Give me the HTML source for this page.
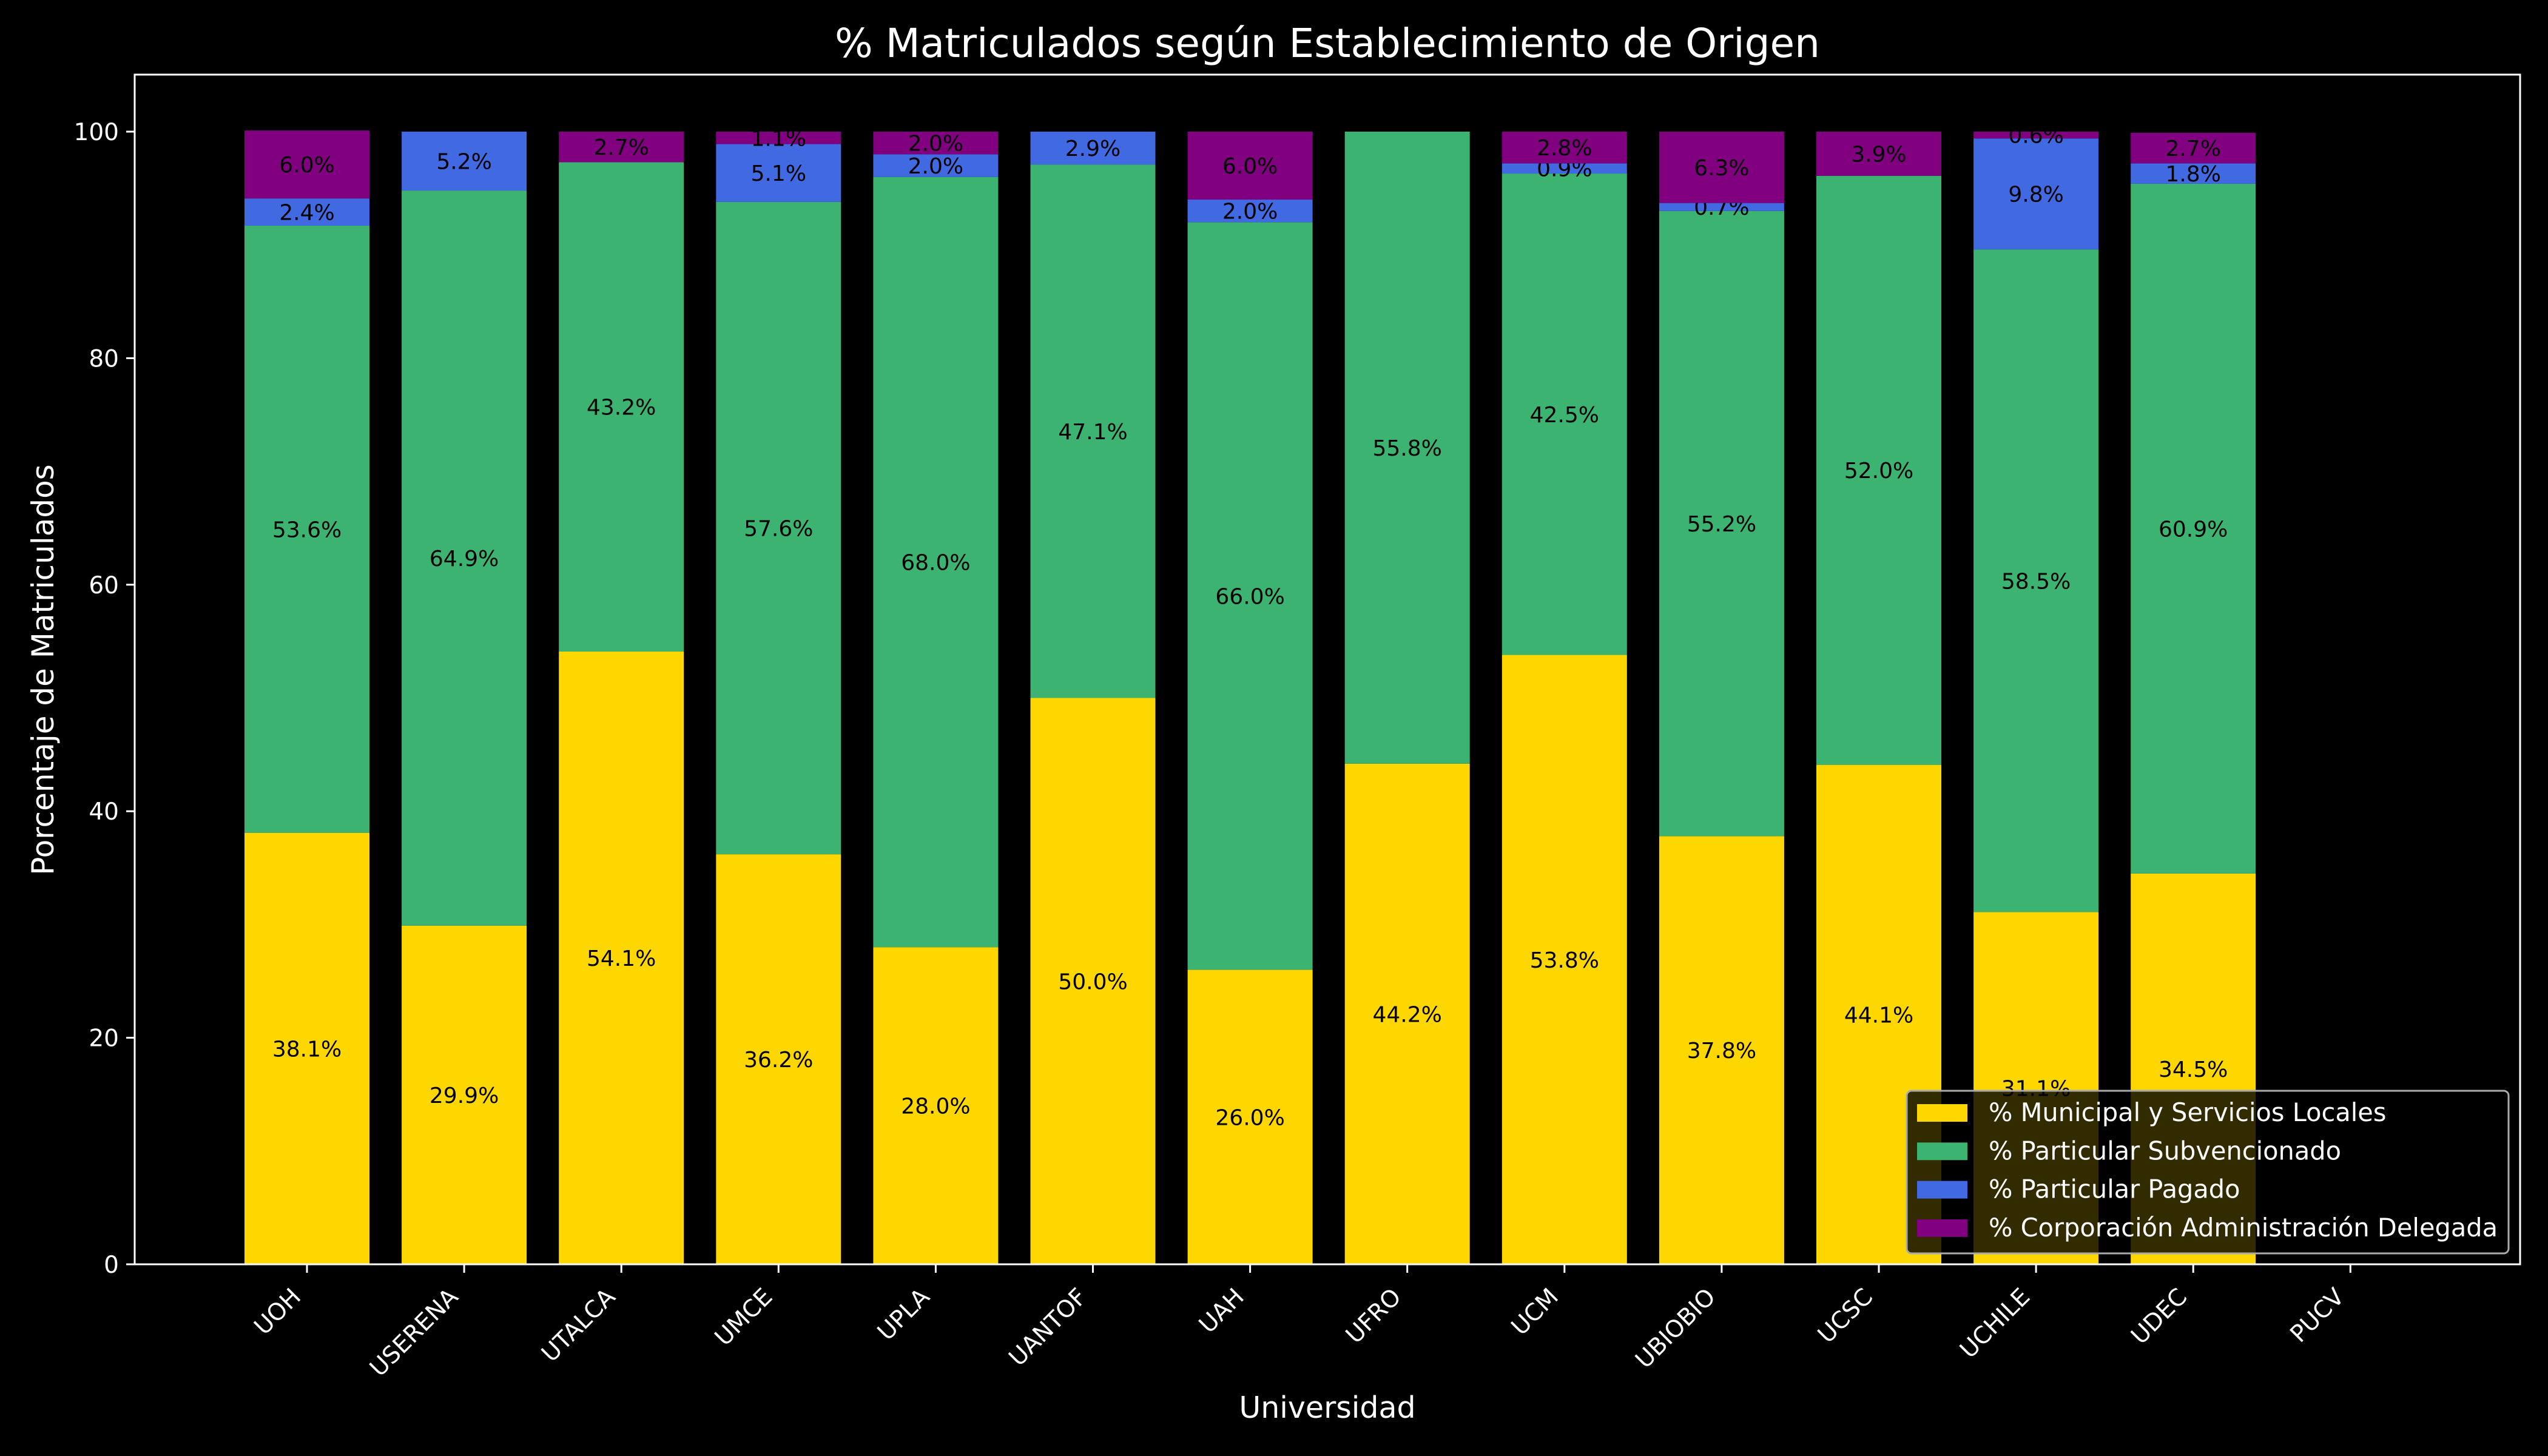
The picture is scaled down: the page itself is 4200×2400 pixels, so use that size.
<!DOCTYPE html>
<html><head><meta charset="utf-8"><style>
html,body{margin:0;padding:0;background:#000;}
svg{display:block;font-family:"DejaVu Sans","Liberation Sans",sans-serif;}
</style></head><body>
<svg id="chart" width="4200" height="2400" viewBox="0 0 4200 2400">
<rect width="4200" height="2400" fill="#000"/>
<text x="2188" y="94" fill="#fff" font-size="66" text-anchor="middle">% Matriculados según Establecimiento de Origen</text>
<text x="2188" y="2337" fill="#fff" font-size="49" text-anchor="middle">Universidad</text>
<text transform="translate(88,1104) rotate(-90)" fill="#fff" font-size="50" text-anchor="middle">Porcentaje de Matriculados</text>
<g id="plot"></g>
<rect x="222" y="123" width="3932" height="1961" fill="none" stroke="#fff" stroke-width="3"/>
<g id="legend"></g>
</svg>
<script>
const categories = ["UOH","USERENA","UTALCA","UMCE","UPLA","UANTOF","UAH","UFRO","UCM","UBIOBIO","UCSC","UCHILE","UDEC","PUCV"];
const municipal = [38.1,29.9,54.1,36.2,28.0,50.0,26.0,44.2,53.8,37.8,44.1,31.1,34.5,0];
const subvencionado = [53.6,64.9,43.2,57.6,68.0,47.1,66.0,55.8,42.5,55.2,52.0,58.5,60.9,0];
const pagado = [2.4,5.2,0,5.1,2.0,2.9,2.0,0,0.9,0.7,0,9.8,1.8,0];
const corporacion = [6.0,0,2.7,1.1,2.0,0,6.0,0,2.8,6.3,3.9,0.6,2.7,0];
const seriesNames = ["% Municipal y Servicios Locales","% Particular Subvencionado","% Particular Pagado","% Corporación Administración Delegada"];
const yTicks = [0,20,40,60,80,100];

const NS = "http://www.w3.org/2000/svg";
const colors = ["#FFD700","#3CB371","#4169E1","#800080"];
const series = [municipal, subvencionado, pagado, corporacion];
const y0px = 2084, y100px = 217;
const yScale = v => y0px - v * (y0px - y100px) / 100;
const xScale = i => 506 + i * 259.1;
const barW = 206;
function mk(tag, attrs, parent) {
  const e = document.createElementNS(NS, tag);
  for (const k in attrs) e.setAttribute(k, attrs[k]);
  parent.appendChild(e);
  return e;
}
const plot = document.getElementById("plot");
const svg = document.getElementById("chart");

categories.forEach((c, i) => {
  let base = 0;
  series.forEach((s, si) => {
    const v = s[i];
    const r = mk("rect", {x: xScale(i) - barW/2, y: yScale(base + v), width: barW, height: Math.max(0, yScale(base) - yScale(base + v)), fill: colors[si]}, plot);
    
    
    if (v > 0) {
      const t = mk("text", {x: xScale(i), y: yScale(base + v/2) + 13, fill: "#000", "font-size": "36", "text-anchor": "middle"}, plot);
      t.textContent = v.toFixed(1) + "%";
      
      
    }
    base += v;
  });
  const tk = mk("line", {x1: xScale(i), x2: xScale(i), y1: 2084, y2: 2098, stroke: "#fff", "stroke-width": "3"}, svg);
  
  
  const lx = xScale(i) - 8, ly = 2140;
  const tl = mk("text", {x: lx, y: ly, fill: "#fff", "font-size": "39", "text-anchor": "end", transform: "rotate(-45 " + lx + " " + ly + ")"}, svg);
  tl.textContent = c;
  
  
});

yTicks.forEach(v => {
  const y = yScale(v);
  const tk = mk("line", {x1: 208, x2: 222, y1: y, y2: y, stroke: "#fff", "stroke-width": "3"}, svg);
  
  
  const t = mk("text", {x: 196, y: y + 14, fill: "#fff", "font-size": "39", "text-anchor": "end"}, svg);
  t.textContent = v;
  
  
});

const leg = document.getElementById("legend");
const box = mk("rect", {x: 3143, y: 1798, width: 992, height: 268, rx: 8, fill: "rgba(0,0,0,0.8)", stroke: "#aaa", "stroke-width": "3"}, leg);


seriesNames.forEach((n, k) => {
  const cy = 1834 + k * 63.3;
  const p = mk("rect", {x: 3160, y: cy - 14, width: 83, height: 29, fill: colors[k]}, leg);
  
  
  const t = mk("text", {x: 3278, y: cy + 14, fill: "#fff", "font-size": "41.5"}, leg);
  t.textContent = n;
  
  
});
</script>
</body></html>
